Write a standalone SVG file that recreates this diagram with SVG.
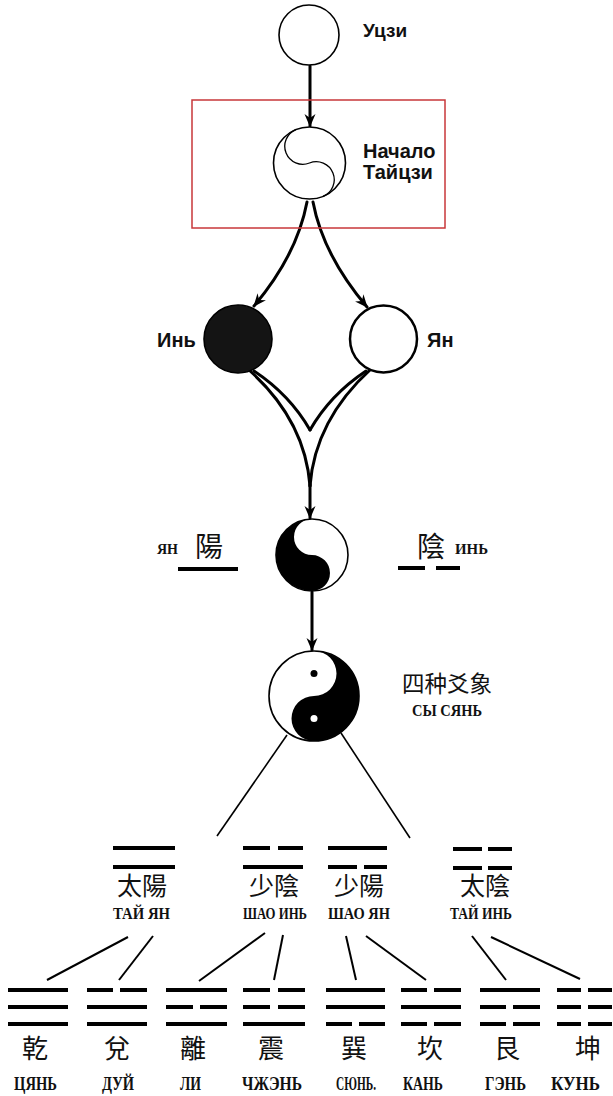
<svg xmlns="http://www.w3.org/2000/svg" width="613" height="1096" viewBox="0 0 613 1096">
<defs>
<marker id="ah" markerUnits="userSpaceOnUse" markerWidth="13" markerHeight="12" viewBox="0 0 13 12" refX="12" refY="6" orient="auto">
<path d="M0,0.5 L13,6 L0,11.5 L4,6 Z" fill="#000"/>
</marker>
</defs>
<style>
.sans{font-family:"Liberation Sans",Arial,sans-serif;font-weight:bold;fill:#111}
.ser{font-family:"Liberation Serif","Times New Roman",serif;font-weight:bold;fill:#111}
.cjk{font-family:"Noto Sans CJK TC","Noto Sans CJK SC",sans-serif;fill:#111}
.ring{fill:#fff;stroke:#000;stroke-width:1.6}
.conn{fill:none;stroke:#000;stroke-width:3;stroke-linecap:round}
.thin{fill:none;stroke:#000;stroke-width:1.6}
.bar{stroke:#000;stroke-width:4}
</style>
<rect width="613" height="1096" fill="#fff"/>

<g id="connectors">
<line class="conn" x1="310" y1="66" x2="310" y2="126" marker-end="url(#ah)"/>
<path class="conn" d="M307,202 Q297,255 254,306" marker-end="url(#ah)"/>
<path class="conn" d="M313,202 Q323,255 367,307" marker-end="url(#ah)"/>
<path class="conn" d="M249,370 Q305,420 310,486"/>
<path class="conn" d="M254,371 Q290,395 310,430"/>
<path class="conn" d="M371,369 Q315,420 310,486"/>
<path class="conn" d="M366,371 Q330,395 310,430"/>
<line class="conn" x1="310" y1="484" x2="310" y2="518" marker-end="url(#ah)"/>
<line class="conn" x1="312" y1="592" x2="312" y2="650" marker-end="url(#ah)"/>
<line class="thin" x1="287" y1="735" x2="217" y2="836"/>
<line class="thin" x1="341" y1="733" x2="410" y2="838"/>
<g stroke="#000" stroke-width="2">
<line x1="128" y1="937" x2="47" y2="980"/>
<line x1="153" y1="936" x2="119" y2="980"/>
<line x1="265" y1="933" x2="199" y2="981"/>
<line x1="283" y1="935" x2="274" y2="980"/>
<line x1="346" y1="936" x2="356" y2="980"/>
<line x1="366" y1="936" x2="426" y2="980"/>
<line x1="472" y1="936" x2="506" y2="980"/>
<line x1="491" y1="937" x2="580" y2="979"/>
</g>
</g>

<g id="wuji">
<circle class="ring" cx="309" cy="35" r="30"/>
<text class="sans" x="363" y="37" font-size="19">Уцзи</text>
</g>

<g id="taiji-start">
<rect x="192" y="100" width="253" height="128" fill="none" stroke="#c8373a" stroke-width="1.5"/>
<circle class="ring" cx="309.5" cy="163" r="36"/>
<path d="M309.5,127 A18,18 0 0 0 309.5,163 A18,18 0 0 1 309.5,199" fill="none" stroke="#000" stroke-width="1.3" transform="rotate(-22 309.5 163)"/>
<text class="sans" x="363" y="158" font-size="20">Начало</text>
<text class="sans" x="363" y="179" font-size="20">Тайцзи</text>
</g>

<g id="yin">
<circle cx="238" cy="339" r="34" fill="#141414" stroke="#000" stroke-width="1.6"/>
<text class="sans" x="157" y="347" font-size="20">Инь</text>
</g>

<g id="yang">
<circle cx="383.5" cy="339" r="33.5" fill="#fff" stroke="#000" stroke-width="2.5"/>
<text class="sans" x="427" y="347" font-size="20">Ян</text>
</g>

<g id="taiji-two">
<circle class="ring" cx="312" cy="555" r="36"/>
<path d="M312,519 A36,36 0 0 0 312,591 A18,18 0 0 0 312,555 A18,18 0 0 1 312,519 Z" fill="#000"/>
<text class="ser" x="157" y="554" font-size="15" textLength="21" lengthAdjust="spacingAndGlyphs">ЯН</text>
<text class="cjk" x="195" y="557" font-size="28">陽</text>
<line class="bar" x1="178" y1="569" x2="238" y2="569"/>
<text class="cjk" x="417" y="557" font-size="28">陰</text>
<text class="ser" x="455" y="554" font-size="15" textLength="33" lengthAdjust="spacingAndGlyphs">ИНЬ</text>
<line class="bar" x1="398" y1="568" x2="425" y2="568"/>
<line class="bar" x1="436" y1="568" x2="460" y2="568"/>
</g>

<g id="four-images">
<circle class="ring" cx="314" cy="696" r="45"/>
<path d="M314,651 A45,45 0 0 1 314,741 A22.5,22.5 0 0 1 314,696 A22.5,22.5 0 0 0 314,651 Z" fill="#000"/>
<circle cx="314" cy="673.5" r="3.5" fill="#000"/>
<circle cx="314" cy="718.5" r="3.5" fill="#fff"/>
<text class="cjk" x="402" y="692" font-size="22.5">四种爻象</text>
<text class="ser" x="412" y="716" font-size="16" textLength="70" lengthAdjust="spacingAndGlyphs">СЫ СЯНЬ</text>
</g>

<g id="tai-yang">
<line class="bar" x1="113" y1="848" x2="175" y2="848"/>
<line class="bar" x1="113" y1="867" x2="175" y2="867"/>
<text class="cjk" x="117" y="895" font-size="25">太陽</text>
<text class="ser" x="113" y="919" font-size="17" textLength="57" lengthAdjust="spacingAndGlyphs">ТАЙ ЯН</text>
</g>
<g id="shao-yin">
<line class="bar" x1="243" y1="848" x2="270" y2="848"/>
<line class="bar" x1="278" y1="848" x2="303" y2="848"/>
<line class="bar" x1="243" y1="867" x2="303" y2="867"/>
<text class="cjk" x="249" y="895" font-size="25">少陰</text>
<text class="ser" x="243" y="919" font-size="17" textLength="64" lengthAdjust="spacingAndGlyphs">ШАО ИНЬ</text>
</g>
<g id="shao-yang">
<line class="bar" x1="328" y1="848" x2="387" y2="848"/>
<line class="bar" x1="328" y1="867" x2="357" y2="867"/>
<line class="bar" x1="364" y1="867" x2="387" y2="867"/>
<text class="cjk" x="334" y="895" font-size="25">少陽</text>
<text class="ser" x="328" y="919" font-size="17" textLength="62" lengthAdjust="spacingAndGlyphs">ШАО ЯН</text>
</g>
<g id="tai-yin">
<line class="bar" x1="453" y1="849" x2="482" y2="849"/>
<line class="bar" x1="488" y1="849" x2="512" y2="849"/>
<line class="bar" x1="453" y1="868" x2="482" y2="868"/>
<line class="bar" x1="488" y1="868" x2="512" y2="868"/>
<text class="cjk" x="460" y="895" font-size="25">太陰</text>
<text class="ser" x="450" y="919" font-size="17" textLength="62" lengthAdjust="spacingAndGlyphs">ТАЙ ИНЬ</text>
</g>

<g id="qian">
<line class="bar" x1="8" y1="990" x2="68" y2="990"/>
<line class="bar" x1="8" y1="1007" x2="68" y2="1007"/>
<line class="bar" x1="8" y1="1024" x2="68" y2="1024"/>
<text class="cjk" x="35" y="1058" font-size="26" text-anchor="middle">乾</text>
<text class="ser" x="14" y="1090" font-size="19" textLength="43" lengthAdjust="spacingAndGlyphs">ЦЯНЬ</text>
</g>
<g id="dui">
<line class="bar" x1="87" y1="990" x2="113" y2="990"/>
<line class="bar" x1="120" y1="990" x2="147" y2="990"/>
<line class="bar" x1="87" y1="1007" x2="147" y2="1007"/>
<line class="bar" x1="87" y1="1024" x2="147" y2="1024"/>
<text class="cjk" x="117" y="1058" font-size="26" text-anchor="middle">兌</text>
<text class="ser" x="102" y="1090" font-size="19" textLength="32" lengthAdjust="spacingAndGlyphs">ДУЙ</text>
</g>
<g id="li">
<line class="bar" x1="166" y1="990" x2="227" y2="990"/>
<line class="bar" x1="166" y1="1007" x2="193" y2="1007"/>
<line class="bar" x1="200" y1="1007" x2="227" y2="1007"/>
<line class="bar" x1="166" y1="1024" x2="227" y2="1024"/>
<text class="cjk" x="193" y="1058" font-size="26" text-anchor="middle">離</text>
<text class="ser" x="180" y="1090" font-size="19" textLength="21" lengthAdjust="spacingAndGlyphs">ЛИ</text>
</g>
<g id="zhen">
<line class="bar" x1="243" y1="990" x2="270" y2="990"/>
<line class="bar" x1="278" y1="990" x2="305" y2="990"/>
<line class="bar" x1="243" y1="1007" x2="270" y2="1007"/>
<line class="bar" x1="278" y1="1007" x2="305" y2="1007"/>
<line class="bar" x1="243" y1="1024" x2="305" y2="1024"/>
<text class="cjk" x="271" y="1058" font-size="26" text-anchor="middle">震</text>
<text class="ser" x="242" y="1090" font-size="19" textLength="60" lengthAdjust="spacingAndGlyphs">ЧЖЭНЬ</text>
</g>
<g id="xun">
<line class="bar" x1="326" y1="990" x2="385" y2="990"/>
<line class="bar" x1="326" y1="1007" x2="385" y2="1007"/>
<line class="bar" x1="326" y1="1024" x2="352" y2="1024"/>
<line class="bar" x1="359" y1="1024" x2="385" y2="1024"/>
<text class="cjk" x="354" y="1058" font-size="26" text-anchor="middle">巽</text>
<text class="ser" x="336" y="1090" font-size="19" textLength="40" lengthAdjust="spacingAndGlyphs">СЮНЬ.</text>
</g>
<g id="kan">
<line class="bar" x1="401" y1="990" x2="427" y2="990"/>
<line class="bar" x1="434" y1="990" x2="461" y2="990"/>
<line class="bar" x1="401" y1="1007" x2="461" y2="1007"/>
<line class="bar" x1="401" y1="1024" x2="427" y2="1024"/>
<line class="bar" x1="434" y1="1024" x2="461" y2="1024"/>
<text class="cjk" x="430" y="1058" font-size="26" text-anchor="middle">坎</text>
<text class="ser" x="403" y="1090" font-size="19" textLength="40" lengthAdjust="spacingAndGlyphs">КАНЬ</text>
</g>
<g id="gen">
<line class="bar" x1="480" y1="990" x2="540" y2="990"/>
<line class="bar" x1="480" y1="1007" x2="506" y2="1007"/>
<line class="bar" x1="513" y1="1007" x2="540" y2="1007"/>
<line class="bar" x1="480" y1="1024" x2="506" y2="1024"/>
<line class="bar" x1="513" y1="1024" x2="540" y2="1024"/>
<text class="cjk" x="507" y="1058" font-size="26" text-anchor="middle">艮</text>
<text class="ser" x="485" y="1090" font-size="19" textLength="41" lengthAdjust="spacingAndGlyphs">ГЭНЬ</text>
</g>
<g id="kun">
<line class="bar" x1="557" y1="990" x2="581" y2="990"/>
<line class="bar" x1="588" y1="990" x2="612" y2="990"/>
<line class="bar" x1="557" y1="1007" x2="581" y2="1007"/>
<line class="bar" x1="588" y1="1007" x2="612" y2="1007"/>
<line class="bar" x1="557" y1="1024" x2="581" y2="1024"/>
<line class="bar" x1="588" y1="1024" x2="612" y2="1024"/>
<text class="cjk" x="588" y="1058" font-size="26" text-anchor="middle">坤</text>
<text class="ser" x="551" y="1090" font-size="19" textLength="49" lengthAdjust="spacingAndGlyphs">КУНЬ</text>
</g>
</svg>
